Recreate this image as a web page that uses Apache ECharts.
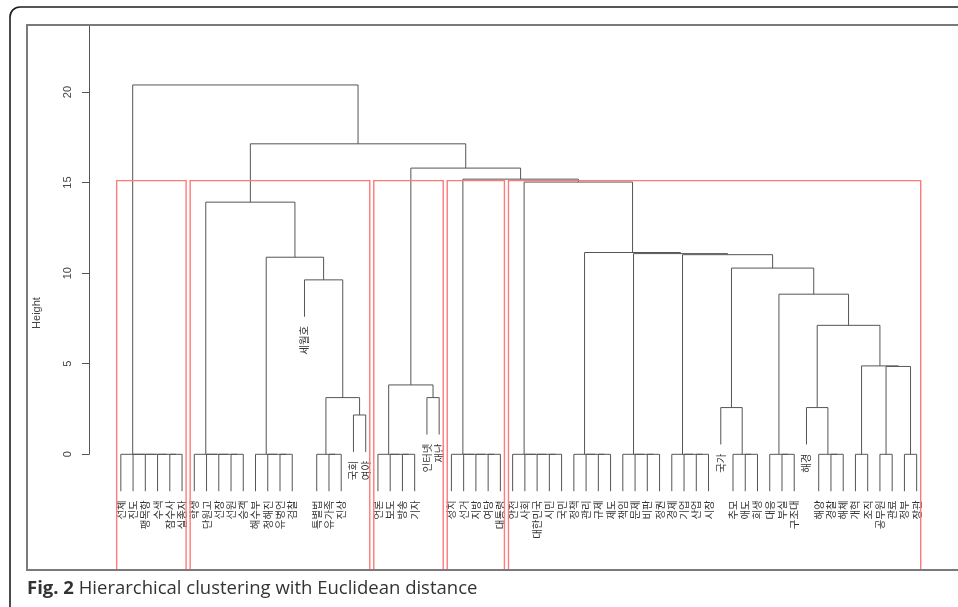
<!DOCTYPE html>
<html>
<head>
<meta charset="utf-8">
<script src="https://cdn.jsdelivr.net/npm/echarts@6/dist/echarts.min.js"></script>
<style>
html,body{margin:0;padding:0;background:#fff;}
#chart{width:958px;height:607px;}
</style>
</head>
<body>
<div id="chart"></div>
<script>
// ---- data ----
const labels = [
  "선체","진도","팽목항","수색","잠수사","실종자",
  "학생","단원고","선장","선원","승객",
  "해수부","청해진","유병언","검찰",
  "세월호",
  "특별법","유가족","진상",
  "국회","여야",
  "언론","보도","방송","기자",
  "인터넷","재난",
  "정치","선거","지방","여당","대통령",
  "안전","사회","대한민국","시민","국민",
  "정책","관리","규제","제도",
  "책임","문제","비판","정권",
  "경제","기업","산업","시장",
  "국가",
  "추모","애도","희생",
  "대응","부실","구조대",
  "해경",
  "해양","경찰","해체",
  "개혁","조직",
  "공무원","관료",
  "정부","장관"
];
// R-style merge matrix: negative = leaf (1-based), positive = earlier merge row
const mergeL = [-5,-4,-3,-2,-1, -10,-9,-8,-7, -14,-13,-12, -18,-17, -20,14,-16,12,9,
  -24,-23,-22,-26,22, -31,-30,-29,-28,
  -36,-35,-34,-33, -40,-39,-38, -44,-43,-42, -48,-47,-46, -52,-51,-50, -55,-54,
  -59,-58,-57, -61,-63,-65, 51,50,49,46,44,41,38,35,32, 28,24,19,5];
const mergeR = [-6,1,2,3,4, -11,6,7,8, -15,10,11, -19,13, -21,15,16,17,18,
  -25,20,21,-27,23, -32,25,26,27,
  -37,29,30,31, -41,33,34, -45,36,37, -49,39,40, -53,42,43, -56,45,
  -60,47,48, -62,-64,-66, 52,53,54,55,56,57,58,59,60, 61,62,63,64];
const mergeH = [0,0,0,0,0, 0,0,0,0, 0,0,0, 0,0, 2.17,3.13,9.63,10.88,13.92,
  0,0,0,3.13,3.83, 0,0,0,0,
  0,0,0,0, 0,0,0, 0,0,0, 0,0,0, 0,0,2.58, 0,0,
  0,0,2.58, 0,0,0, 4.85,4.88,7.12,8.84,10.28,11.02,11.08,11.14,15.03, 15.19,15.8,17.14,20.39];
const clusterFirst = [1,7,22,28,33];
const clusterLast  = [6,21,27,32,66];
const yTicks = [0,5,10,15,20];
const yMax = 23.7;
const boxBottom = -6.4;
const hang = 0.1;

// ---- layout computation (R plot.hclust logic) ----
const n = labels.length;
const maxH = Math.max(...mergeH), minH = Math.min(...mergeH);
const hangH = hang * (maxH - minH);
const nodeX = [];
const links = [];
const leafEnd = new Array(n).fill(0);
for (let i = 0; i < mergeH.length; i++) {
  const h = mergeH[i];
  const side = r => {
    if (r < 0) { leafEnd[-r - 1] = h - hangH; return [-r, h - hangH]; }
    return [nodeX[r - 1], mergeH[r - 1]];
  };
  const a = side(mergeL[i]), b = side(mergeR[i]);
  nodeX.push((a[0] + b[0]) / 2);
  links.push([a[0], a[1], b[0], b[1], h]);
}
const sortedH = mergeH.slice().sort((p, q) => q - p);
const k = clusterFirst.length;
const boxTop = (sortedH[k - 2] + sortedH[k - 1]) / 2;
const boxes = clusterFirst.map((f, i) => [f - 0.34, clusterLast[i] + 0.33, boxTop, boxBottom]);
const leaves = labels.map((_, i) => [i + 1, leafEnd[i]]);

const chart = echarts.init(document.getElementById('chart'));
const ext = 0.04 * (n - 1);
chart.setOption({
  animation: false,
  backgroundColor: '#fff',
  grid: { left: 89, right: 9.5, top: 25, bottom: 152.7, containLabel: false },
  xAxis: { type: 'value', min: 1 - ext, max: n + ext, show: false },
  yAxis: {
    type: 'value', min: 0, max: yMax, interval: 5,
    splitLine: { show: false },
    axisLine: { show: true, onZero: false, lineStyle: { color: '#555', width: 1 } },
    axisTick: { show: true, length: 7, customValues: yTicks, lineStyle: { color: '#555' } },
    axisLabel: { rotate: 90, margin: 16, color: '#444', fontSize: 11, fontFamily: 'Liberation Sans', customValues: yTicks }
  },
  graphic: [
    { type: 'rect', z: 100, shape: { x: 10, y: 7, width: 1000, height: 650, r: 10 },
      style: { fill: 'none', stroke: '#1e1e1e', lineWidth: 1.6 }, silent: true },
    { type: 'rect', z: 100, shape: { x: 27, y: 25, width: 1000, height: 545 },
      style: { fill: 'none', stroke: '#7a7a7a', lineWidth: 2 }, silent: true },
    { type: 'text', z: 100, x: 37, y: 313, rotation: Math.PI / 2,
      style: { text: 'Height', fill: '#444', fontSize: 11, fontFamily: 'Liberation Sans', align: 'center', verticalAlign: 'middle' } },
    { type: 'text', z: 100, x: 27, y: 589,
      style: { text: '{b|Fig. 2} Hierarchical clustering with Euclidean distance',
        fill: '#333', fontSize: 18.5, fontFamily: 'Open Sans', verticalAlign: 'middle',
        rich: { b: { fontWeight: 'bold', fontSize: 18.5, fontFamily: 'Open Sans', fill: '#333' } } } }
  ],
  series: [
    {
      type: 'custom', clip: false, z: 2,
      data: links,
      renderItem: (params, api) => {
        const p1 = api.coord([api.value(0), api.value(1)]);
        const p2 = api.coord([api.value(0), api.value(4)]);
        const p3 = api.coord([api.value(2), api.value(4)]);
        const p4 = api.coord([api.value(2), api.value(3)]);
        return { type: 'polyline', shape: { points: [p1, p2, p3, p4] },
          style: { stroke: '#555', lineWidth: 1, fill: 'none' } };
      }
    },
    {
      type: 'custom', clip: false, z: 3,
      data: leaves,
      renderItem: (params, api) => {
        const p = api.coord([api.value(0), api.value(1)]);
        return { type: 'text', x: p[0], y: p[1] + 9, rotation: Math.PI / 2,
          style: { text: labels[params.dataIndex], fill: '#333', fontSize: 10.5,
            fontFamily: 'Noto Sans CJK KR', align: 'right', verticalAlign: 'middle' } };
      }
    },
    {
      type: 'custom', clip: false, z: 4,
      data: boxes,
      renderItem: (params, api) => {
        const a = api.coord([api.value(0), api.value(3)]);
        const b = api.coord([api.value(0), api.value(2)]);
        const c = api.coord([api.value(1), api.value(2)]);
        const d = api.coord([api.value(1), api.value(3)]);
        return { type: 'polyline', shape: { points: [a, b, c, d] },
          style: { stroke: '#ff7a7a', lineWidth: 1.4, fill: 'none' } };
      }
    }
  ]
});
</script>
</body>
</html>
